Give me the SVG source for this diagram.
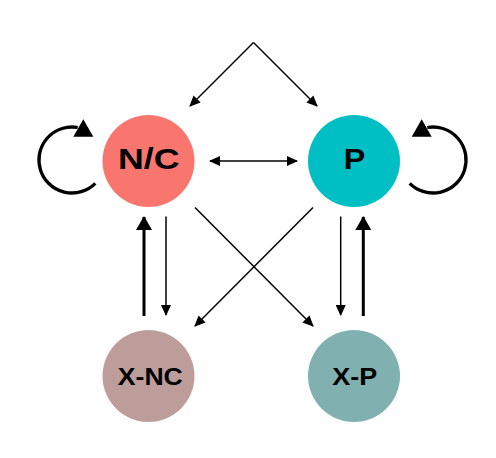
<svg xmlns="http://www.w3.org/2000/svg" width="496" height="458" viewBox="0 0 496 458">
  <style>
    .lbl { font-family: "Liberation Sans", Arial, sans-serif; font-weight: bold; fill: #000; text-anchor: middle; }
    .thin { stroke: #000; stroke-width: 1.5; fill: none; }
    .thick { stroke: #000; stroke-width: 3; fill: none; }
    .loop { stroke: #000; stroke-width: 3.3; fill: none; }
  </style>
  <defs>
    <marker id="ah" markerUnits="userSpaceOnUse" markerWidth="11" markerHeight="10" refX="10" refY="5" orient="auto-start-reverse">
      <path d="M0,0 L11,5 L0,10 z" fill="#000"/>
    </marker>
    <marker id="ahBig" markerUnits="userSpaceOnUse" markerWidth="14" markerHeight="16" refX="13" refY="8" orient="auto">
      <path d="M0,0 L14,8 L0,16 z" fill="#000"/>
    </marker>
  </defs>
  <rect width="496" height="458" fill="#fff"/>

  <g id="connectors">
    <line class="thin" x1="253.5" y1="42.5" x2="190" y2="106" marker-end="url(#ah)"/>
    <line class="thin" x1="253.5" y1="42.5" x2="317" y2="106" marker-end="url(#ah)"/>
    <line class="thin" x1="210" y1="161" x2="297" y2="161" marker-start="url(#ah)" marker-end="url(#ah)"/>
    <line class="thin" x1="195" y1="207.5" x2="313" y2="326" marker-end="url(#ah)"/>
    <line class="thin" x1="313" y1="207.5" x2="195" y2="326" marker-end="url(#ah)"/>
    <line class="thin" x1="166" y1="216.5" x2="166" y2="315" marker-end="url(#ah)"/>
    <line class="thin" x1="340.7" y1="216.5" x2="340.7" y2="315" marker-end="url(#ah)"/>
    <line class="thick" x1="144" y1="316" x2="144" y2="217" marker-end="url(#ahBig)"/>
    <line class="thick" x1="363.3" y1="316" x2="363.3" y2="217" marker-end="url(#ahBig)"/>
    <path class="loop" d="M95.3,183.3 A33,33 0 1 1 77.7,127.5"/>
    <polygon points="83.3,119.3 73.3,136.7 93.3,136.7" fill="#000"/>
    <path class="loop" d="M409.7,183.3 A33,33 0 1 0 427.3,127.5"/>
    <polygon points="421.7,119.3 411.7,136.7 431.7,136.7" fill="#000"/>
  </g>

  <g id="node-nc">
    <circle cx="148.5" cy="161" r="46" fill="#F8766D"/>
    <text class="lbl" x="148.7" y="169" font-size="30" textLength="61.5" lengthAdjust="spacingAndGlyphs">N/C</text>
  </g>
  <g id="node-p">
    <circle cx="354" cy="161" r="46" fill="#00BFC4"/>
    <text class="lbl" x="354.5" y="169" font-size="30" textLength="21.5" lengthAdjust="spacingAndGlyphs">P</text>
  </g>
  <g id="node-xnc">
    <circle cx="148.5" cy="376" r="46" fill="#BD9D9A"/>
    <text class="lbl" x="150.3" y="385.3" font-size="23" textLength="65" lengthAdjust="spacingAndGlyphs">X-NC</text>
  </g>
  <g id="node-xp">
    <circle cx="354" cy="376" r="46" fill="#80B1B0"/>
    <text class="lbl" x="354.7" y="385.3" font-size="23" textLength="45" lengthAdjust="spacingAndGlyphs">X-P</text>
  </g>
</svg>
